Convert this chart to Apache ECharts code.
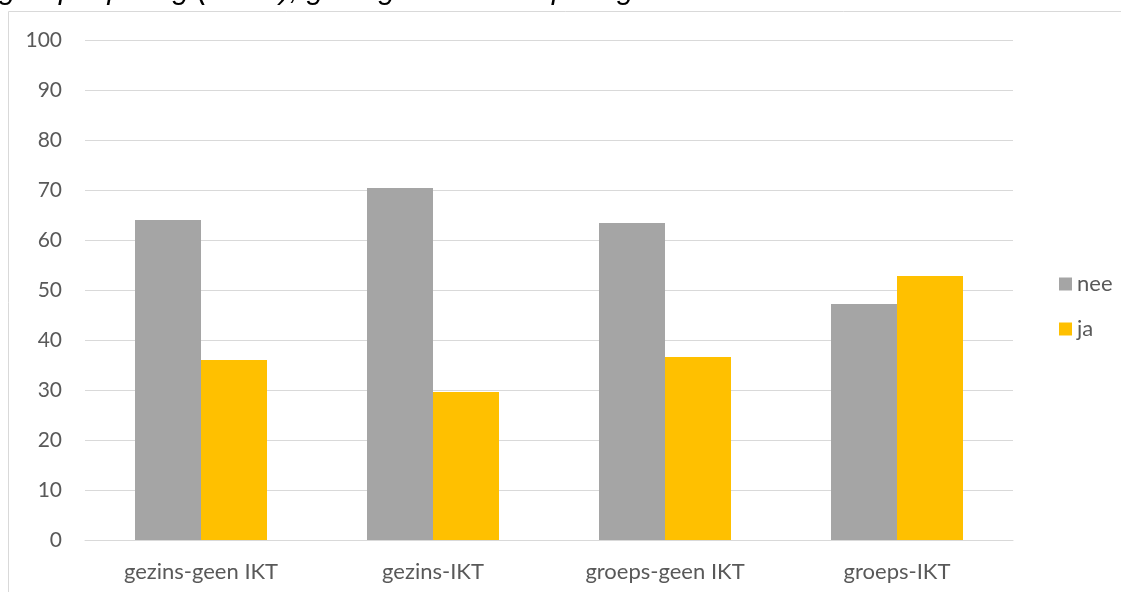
<!DOCTYPE html>
<html><head><meta charset="utf-8">
<script src="https://cdn.jsdelivr.net/npm/echarts@6/dist/echarts.min.js"></script>
<style>html,body{margin:0;padding:0;background:#fff}#c{width:1121px;height:592px}</style>
</head><body><div id="c"></div>
<script>
var categories = ['gezins-geen IKT', 'gezins-IKT', 'groeps-geen IKT', 'groeps-IKT'];
var neeValues = [64.0, 70.4, 63.4, 47.2];
var jaValues = [36.0, 29.6, 36.6, 52.8];
var seriesNames = ['nee', 'ja'];
var titleText = 'groepsopvang (N=44), gewogen binnen opvangvorm';

var chart = echarts.init(document.getElementById('c'));
var font = 'Lato, "Open Sans", sans-serif';
chart.setOption({
  animation: false,
  graphic: [
    {type: 'rect', shape: {x: 8.5, y: 11.5, width: 1200, height: 700}, style: {fill: 'none', stroke: '#d9d9d9', lineWidth: 1}, z: -1},
    {type: 'text', left: -1, top: -24, style: {text: titleText, font: 'italic 30px "Liberation Sans", Arial, sans-serif', fill: '#000'}}
  ],
  grid: {left: 85, right: 108, top: 40, bottom: 52},
  legend: {
    orient: 'vertical', left: 1054, top: 268, itemWidth: 13, itemHeight: 13, itemGap: 23,
    icon: 'rect', textStyle: {fontFamily: font, fontSize: 22, color: '#595959'},
    data: seriesNames
  },
  xAxis: {
    type: 'category', data: categories,
    axisLine: {lineStyle: {color: '#d9d9d9'}}, axisTick: {show: false},
    axisLabel: {fontFamily: font, fontSize: 22, color: '#595959', margin: 21}
  },
  yAxis: {
    type: 'value', min: 0, max: 100, interval: 10,
    axisLine: {show: false}, axisTick: {show: false},
    splitLine: {lineStyle: {color: '#d9d9d9'}},
    axisLabel: {fontFamily: font, fontSize: 21, color: '#595959', margin: 23}
  },
  series: [
    {name: seriesNames[0], type: 'bar', data: neeValues, barWidth: 66, barGap: '0%', itemStyle: {color: '#a5a5a5'}},
    {name: seriesNames[1], type: 'bar', data: jaValues, barWidth: 66, itemStyle: {color: '#ffc000'}}
  ]
});
</script></body></html>
